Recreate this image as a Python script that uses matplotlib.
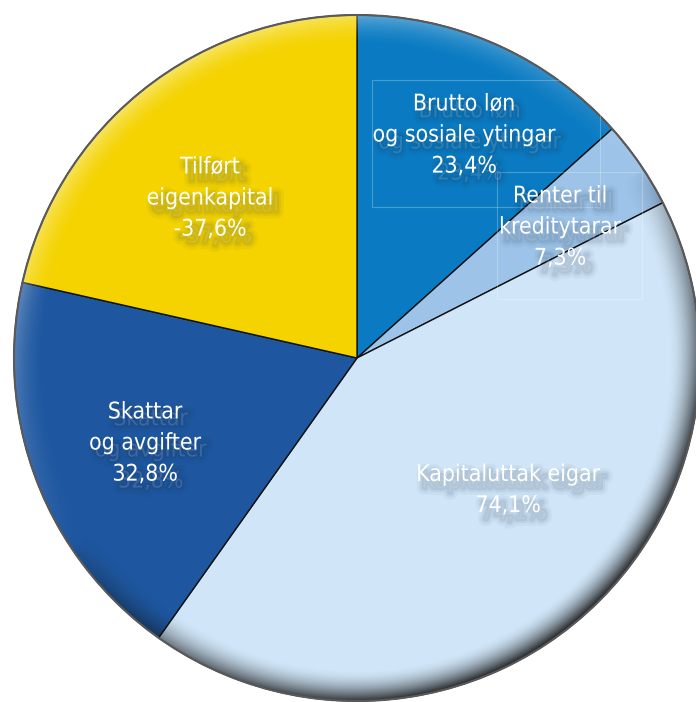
import numpy as np
import matplotlib
matplotlib.use("Agg")
from matplotlib import pyplot as plt
from matplotlib import patheffects as pe
from matplotlib.patches import Circle, Rectangle

labels = ["Brutto løn\nog sosiale ytingar", "Renter til\nkreditytarar", "Kapitaluttak eigar",
          "Skattar\nog avgifter", "Tilført\neigenkapital"]
values = [23.4, 7.3, 74.1, 32.8, -37.6]
colors = ["#0a7bc2", "#9dc3e8", "#d0e6f8", "#1e57a0", "#f4d300"]
# label centres in pixel coords (x, y from top)
label_pos = [(464, 135), (560, 227), (508, 490), (145, 443), (210, 198)]

W, H = 696, 702
cx, cy, R = 357, H - 358, 343

fig = plt.figure(figsize=(W / 100, H / 100), dpi=100)
ax = fig.add_axes([0, 0, 1, 1])

sizes = [abs(v) for v in values]
wedges, _ = ax.pie(sizes, colors=colors, startangle=90, counterclock=False,
                   center=(cx, cy), radius=R, frame=True,
                   wedgeprops=dict(edgecolor="#111111", linewidth=1.0))
ax.set_xlim(0, W)
ax.set_ylim(0, H)
ax.set_aspect("equal")
ax.axis("off")

# bevel shading round the rim
n = 600
xs = np.linspace(-1, 1, n)
X, Y = np.meshgrid(xs, xs[::-1])
rho = np.sqrt(X ** 2 + Y ** 2) + 1e-9
light = np.array([-0.55, 0.83])
dot = (X * light[0] + Y * light[1]) / rho
band = np.clip((rho - 0.91) / 0.09, 0, 1) ** 1.8
rgba = np.zeros((n, n, 4))
pos = dot > 0
rgba[pos, :3] = 1.0
rgba[pos, 3] = dot[pos] * 0.4 * band[pos]
rgba[~pos, :3] = 0.06
rgba[~pos, 3] = (-dot[~pos]) ** 0.6 * 0.9 * band[~pos]
clip = Circle((cx, cy), R, transform=ax.transData)
im = ax.imshow(rgba, extent=(cx - R, cx + R, cy - R, cy + R), zorder=3, interpolation="bilinear")
im.set_clip_path(clip)
ax.add_patch(Circle((cx, cy), R, fill=False, edgecolor="#5a5a5a", linewidth=1.5, zorder=4))

# faint label boxes
for (x0, y0, x1, y1) in [(372, 80, 600, 207), (497, 172, 642, 299)]:
    ax.add_patch(Rectangle((x0, H - y1), x1 - x0, y1 - y0, fill=False,
                           edgecolor="white", alpha=0.25, linewidth=0.8, zorder=4))

sh = "#1b2b45"
shadow = [pe.Stroke(offset=(4, -5), linewidth=10, foreground=sh, alpha=0.04),
          pe.Stroke(offset=(4, -5), linewidth=6, foreground=sh, alpha=0.06),
          pe.Stroke(offset=(4, -5), linewidth=3, foreground=sh, alpha=0.08),
          pe.Normal()]
for lab, v, (px, py) in zip(labels, values, label_pos):
    txt = lab + "\n" + f"{v:.1f}".replace(".", ",") + "%"
    ax.text(px, H - py, txt, ha="center", va="center", color="white",
            fontsize=16.5, family="DejaVu Sans", fontstretch="condensed",
            linespacing=1.45, zorder=5, path_effects=shadow)

fig.savefig("out.png", dpi=100)
